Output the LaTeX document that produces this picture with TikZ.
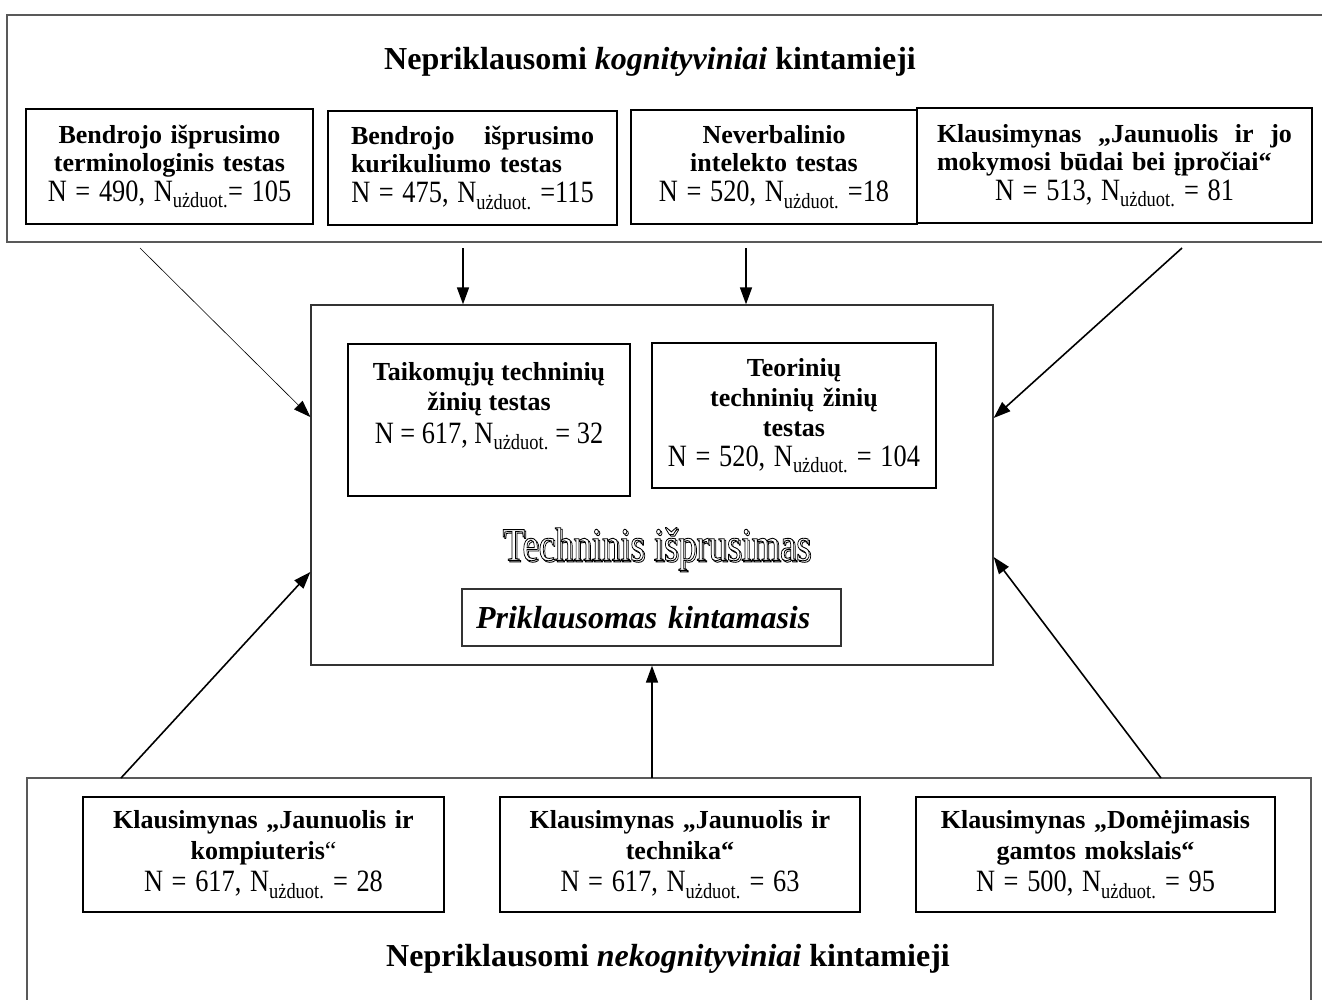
\documentclass[tikz,border=0pt]{standalone}
\usepackage{fontspec}
\setmainfont{Liberation Serif}
\newfontfamily\narrowserif[FakeStretch=0.85]{Liberation Serif}
\usetikzlibrary{arrows.meta}
% N with the "użduot." subscript
\newcommand{\Nu}{N\textsubscript{użduot.}}
% sample-size line, set a little taller and narrower than the bold titles
\newcommand{\Nline}[1]{{\narrowserif\fontsize{31}{26}\selectfont #1}}
% bold line stretched to a given width (justified)
\newcommand{\fullline}[2]{\makebox[#1][l]{\bfseries #2}}
% hollow (outlined) lettering
\newcommand{\hollow}[1]{\special{pdf:literal direct 1 Tr 0.9 w}#1\special{pdf:literal direct 0 Tr}}
\newcommand{\hollowwhite}[1]{{\color{white}\special{pdf:literal direct 2 Tr 0 G 0.9 w}#1\special{pdf:literal direct 0 Tr}}}
\begin{document}
\begin{tikzpicture}[x=1pt,y=-1pt,
  frame/.style={draw=black!65, line width=1.3pt},
  testbox/.style={draw=black, line width=2pt, inner sep=0pt, align=center,
    font=\fontsize{26}{28}\selectfont},
  smallframe/.style={draw=black!80, line width=1.3pt, inner sep=0pt},
  heading/.style={font=\fontsize{32}{38}\selectfont\bfseries, inner sep=0pt},
  link/.style={line width=1.6pt, -{Triangle[length=17pt,width=12pt]}},
  thinlink/.style={line width=0.6pt, -{Triangle[length=17pt,width=12pt]}}]
\useasboundingbox (0,0) rectangle (1322,999);

% outer frames of the two groups of independent variables
\node[frame, minimum width=1323pt, minimum height=227pt, inner sep=0pt] (top) at (668.5,128.5) {};
\node[frame, minimum width=1284pt, minimum height=240pt, inner sep=0pt] (bottom) at (669,898) {};

\node[heading] (toptitle) at (650,62) {Nepriklausomi \textit{kognityviniai} kintamieji};
\node[heading] (bottitle) at (668,959) {Nepriklausomi \textit{nekognityviniai} kintamieji};

% cognitive tests
\node[testbox, minimum width=287pt, minimum height=115pt, text width=263pt] (k1) at (169.5,166.5)
  {\textbf{Bendrojo išprusimo\\terminologinis testas}\\[2pt]\Nline{N = 490, \Nu= 105}};
\node[testbox, minimum width=289pt, minimum height=114pt, text width=243pt] (k2) at (472.5,168)
  {\fullline{243pt}{Bendrojo\hfill išprusimo}\\
   \fullline{243pt}{kurikuliumo testas}\\[2pt]\Nline{N = 475, \Nu{} =115}};
\node[testbox, minimum width=286pt, minimum height=114pt, text width=262pt] (k3) at (774,167)
  {\textbf{Neverbalinio\\intelekto testas}\\[2pt]\Nline{N = 520, \Nu{} =18}};
\node[testbox, minimum width=395pt, minimum height=115pt, text width=355pt] (k4) at (1114.5,165.5)
  {\fullline{355pt}{Klausimynas\hfill „Jaunuolis\hfill ir\hfill jo}\\
   \fullline{355pt}{mokymosi būdai bei įpročiai“}\\[2pt]\Nline{N = 513, \Nu{} = 81}};

% dependent variable
\node[smallframe, minimum width=682pt, minimum height=360pt] (core) at (652,485) {};
\node[testbox, minimum width=282pt, minimum height=152pt, anchor=north,
  font=\fontsize{26}{30}\selectfont] (t1) at (489,343)
  {\begin{minipage}[c][150pt][t]{260pt}\centering\vspace*{17pt}%
   \textbf{Taikomųjų techninių\\žinių testas}\\[3pt]\Nline{N = 617, \Nu{} = 32}\end{minipage}};
\node[testbox, minimum width=284pt, minimum height=145pt, text width=260pt,
  font=\fontsize{26}{30}\selectfont] (t2) at (794,415.5)
  {\textbf{Teorinių\\techninių žinių\\testas}\\\Nline{N = 520, \Nu{} = 104}};
\node[inner sep=0pt, font=\fontsize{47}{50}\selectfont] (labelshadow) at (658,550.5)
  {\scalebox{0.78}[1]{\hollow{Techninis išprusimas}}};
\node[inner sep=0pt, font=\fontsize{47}{50}\selectfont] (label) at (656.5,549)
  {\scalebox{0.78}[1]{\hollowwhite{Techninis išprusimas}}};
\node[smallframe, minimum width=379pt, minimum height=57pt, text width=351pt, align=left,
  font=\fontsize{32}{36}\selectfont\bfseries\itshape] (dep) at (651.5,617.5)
  {Priklausomas kintamasis};

% non-cognitive questionnaires
\tikzset{lowbox/.style={testbox, minimum height=115pt, font=\fontsize{26}{31}\selectfont}}
\node[lowbox, minimum width=361pt, text width=337pt] (b1) at (263.5,854.5)
  {\textbf{Klausimynas „Jaunuolis ir\\kompiuteris}“\\[1pt]\Nline{N = 617, \Nu{} = 28}};
\node[lowbox, minimum width=360pt, text width=336pt] (b2) at (680,854.5)
  {\textbf{Klausimynas „Jaunuolis ir\\technika“}\\[1pt]\Nline{N = 617, \Nu{} = 63}};
\node[lowbox, minimum width=359pt, text width=335pt] (b3) at (1095.5,854.5)
  {\textbf{Klausimynas „Domėjimasis\\gamtos mokslais“}\\[1pt]\Nline{N = 500, \Nu{} = 95}};

% free ends of the connectors
\coordinate (s1) at (140,248);
\coordinate (s2) at (463,248);
\coordinate (s3) at (746,248);
\coordinate (s4) at (1182,248);
\coordinate (s5) at (121,778);
\coordinate (s6) at (652,778);
\coordinate (s7) at (1161,778);

\draw[thinlink] (s1) -- (core.west |- 0,417);
\draw[link] (s2) -- (core.north -| s2);
\draw[link] (s3) -- (core.north -| s3);
\draw[link] (s4) -- (core.east |- 0,418);
\draw[link] (s5) -- (core.west |- 0,572);
\draw[link] (s6) -- (core.south);
\draw[link] (s7) -- (core.east |- 0,557);
\end{tikzpicture}
\end{document}
